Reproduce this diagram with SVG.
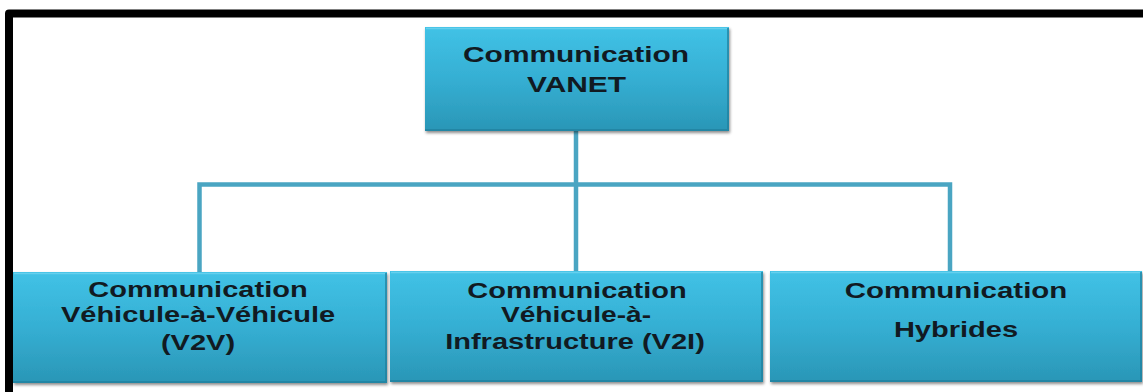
<svg xmlns="http://www.w3.org/2000/svg" width="1143" height="392" viewBox="0 0 1143 392">
  <defs>
    <linearGradient id="boxFill" x1="0" y1="0" x2="0" y2="1">
      <stop offset="0" stop-color="#41c2e6"/>
      <stop offset="0.5" stop-color="#35afd3"/>
      <stop offset="1" stop-color="#2a96b6"/>
    </linearGradient>
    <filter id="shadow" x="-5%" y="-10%" width="110%" height="125%">
      <feDropShadow dx="1" dy="2" stdDeviation="1.5" flood-color="#000" flood-opacity="0.45"/>
    </filter>
  </defs>
  <style>
    .box { fill: url(#boxFill); filter: url(#shadow); }
    .hl { fill: none; stroke: #6fd3ef; stroke-width: 1.5; opacity: 0.8; }
    .edge { fill: none; stroke: #1f7f9c; stroke-width: 2; opacity: 0.7; }
    .label { font-family: "Liberation Sans", Arial, sans-serif; font-weight: bold; font-size: 22px; fill: #111a22; text-anchor: middle; }
    .link { fill: none; stroke: #4aa5c2; stroke-width: 4.5; stroke-linejoin: miter; }
    .frame { fill: none; stroke: #000; stroke-width: 8; stroke-linejoin: round; }
  </style>

  <rect x="0" y="0" width="1143" height="392" fill="#ffffff"/>

  <!-- outer frame (top and left edges) -->
  <path class="frame" d="M 9 392 V 13.5 H 1143"/>

  <!-- connectors -->
  <g id="connectors">
    <path class="link" d="M 576 131 V 271"/>
    <path class="link" d="M 199.5 272 V 184.5 H 950 V 271"/>
  </g>

  <!-- root node -->
  <g id="node-vanet">
    <rect class="box" x="425" y="27" width="304" height="104"/>
    <path class="hl" d="M 426 28.5 H 728"/>
    <path class="edge" d="M 425 130 H 729 M 728 28 V 131"/>
    <text class="label" transform="translate(576 62) scale(1.36 1)">Communication</text>
    <text class="label" transform="translate(576.5 92) scale(1.36 1)">VANET</text>
  </g>

  <!-- vehicle-to-vehicle -->
  <g id="node-v2v">
    <rect class="box" x="13" y="272" width="374" height="111"/>
    <path class="hl" d="M 14 273.5 H 386"/>
    <path class="edge" d="M 13 382 H 387 M 386 273 V 383"/>
    <text class="label" transform="translate(198 297) scale(1.32 1)">Communication</text>
    <text class="label" transform="translate(198 322) scale(1.32 1)">Véhicule-à-Véhicule</text>
    <text class="label" transform="translate(198 350) scale(1.32 1)">(V2V)</text>
  </g>

  <!-- vehicle-to-infrastructure -->
  <g id="node-v2i">
    <rect class="box" x="390" y="271" width="373" height="111"/>
    <path class="hl" d="M 391 272.5 H 762"/>
    <path class="edge" d="M 390 381 H 763 M 762 272 V 382"/>
    <text class="label" transform="translate(577 298) scale(1.32 1)">Communication</text>
    <text class="label" transform="translate(576 322) scale(1.28 1)">Véhicule-à-</text>
    <text class="label" transform="translate(575 349) scale(1.32 1)">Infrastructure (V2I)</text>
  </g>

  <!-- hybrid -->
  <g id="node-hybrid">
    <rect class="box" x="770" y="271" width="372" height="111"/>
    <path class="hl" d="M 771 272.5 H 1141"/>
    <path class="edge" d="M 770 381 H 1142 M 1141 272 V 382"/>
    <text class="label" transform="translate(956 298) scale(1.34 1)">Communication</text>
    <text class="label" transform="translate(956 337) scale(1.32 1)">Hybrides</text>
  </g>
</svg>
